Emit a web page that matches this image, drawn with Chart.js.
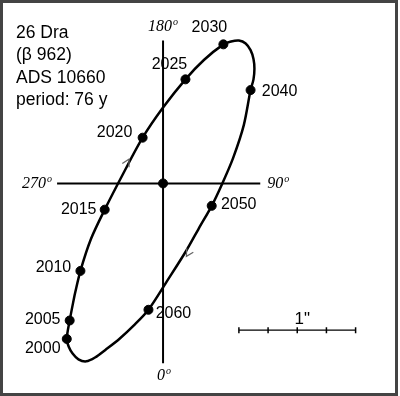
<!DOCTYPE html>
<html>
<head>
<meta charset="utf-8">
<script src="https://cdn.jsdelivr.net/npm/chart.js@4"></script>
<style>
  html, body { margin: 0; padding: 0; background: #fff; overflow: hidden; }
  #wrap { position: relative; width: 400px; height: 396px; }
  #frame { position: absolute; left: 0; top: 0; width: 398px; height: 396px; box-sizing: border-box; border: 3px solid #444; pointer-events: none; }
</style>
</head>
<body>
<div id="wrap">
  <canvas id="orbit-chart"></canvas>
  <div id="frame"></div>
</div>
<script>
// positions in arcseconds, primary star at the origin (180° up, 90° right)
const years = ['2000', '2005', '2010', '2015', '2020', '2025', '2030', '2040', '2050', '2060'];
const yearX = [-0.825, -0.800, -0.708, -0.500, -0.175, 0.192, 0.517, 0.750, 0.417, -0.125];
const yearY = [-1.333, -1.175, -0.750, -0.225, 0.392, 0.892, 1.192, 0.800, -0.192, -1.083];

// points read along the drawn orbit, starting on the straight stretch after 2005 and closing there
const orbitX = [-0.758, -0.708, -0.617, -0.500, -0.342, -0.175, 0.000, 0.192, 0.350, 0.517,
    0.583, 0.650, 0.708, 0.750, 0.775, 0.783, 0.775, 0.750, 0.692, 0.600, 0.508, 0.417, 0.308,
    0.200, 0.042, -0.125, -0.250, -0.375, -0.492, -0.583, -0.658, -0.725, -0.775, -0.808,
    -0.825, -0.800, -0.758];
const orbitY = [-0.958, -0.750, -0.475, -0.225, 0.083, 0.392, 0.650, 0.892, 1.058, 1.192,
    1.217, 1.225, 1.200, 1.142, 1.067, 0.983, 0.892, 0.800, 0.500, 0.217, 0.000, -0.192, -0.383,
    -0.575, -0.825, -1.083, -1.217, -1.333, -1.425, -1.492, -1.525, -1.508, -1.458, -1.400,
    -1.333, -1.175, -0.958];

const titleLines = ['26 Dra', '(β 962)', 'ADS 10660', 'period: 76 y'];
const scaleTicks = [0.65, 0.9, 1.15, 1.4, 1.65];   // 1" bar in quarter steps
const scaleBarY = -1.258;

// label offsets in px (style only)
const labelDx = [-24, -27, -27, -26, -28, -16, -14, 29, 27, 25];
const labelDy = [10, -1, -3, 0, -5, -15, -17, 2, -1, 4];

// direction arrows on the orbit: tip position and heading
const arrowX = [-0.292, 0.200];
const arrowY = [0.208, -0.625];
const arrowDir = [[39, -74], [-65, 107]];

const annotations = {
    id: 'annotations',
    afterDatasetsDraw(chart) {
        const { ctx, scales: { x, y } } = chart;
        ctx.save();
        ctx.fillStyle = '#000';
        ctx.textBaseline = 'middle';

        // year labels
        ctx.font = '16px "Liberation Sans", Arial, sans-serif';
        ctx.textAlign = 'center';
        years.forEach((yr, i) => {
            ctx.fillText(yr, x.getPixelForValue(yearX[i]) + labelDx[i], y.getPixelForValue(yearY[i]) + labelDy[i]);
        });

        // title block
        ctx.font = '17.5px "Liberation Sans", Arial, sans-serif';
        ctx.textAlign = 'left';
        titleLines.forEach((t, i) => ctx.fillText(t, 16, 33 + i * 22.5));

        // scale bar label
        ctx.font = '17px "Liberation Sans", Arial, sans-serif';
        ctx.textAlign = 'center';
        ctx.fillText('1"', x.getPixelForValue(1.15) + 5, y.getPixelForValue(scaleBarY) - 11);

        // position angle labels
        const deg = (txt, px, py, align) => {
            ctx.font = 'italic 16px "Liberation Serif", "Times New Roman", serif';
            const w = ctx.measureText(txt).width;
            ctx.font = 'italic 10px "Liberation Serif", "Times New Roman", serif';
            const wo = ctx.measureText('o').width;
            let left = px;
            if (align === 'center') left = px - (w + wo + 1) / 2;
            if (align === 'right') left = px - (w + wo + 1);
            ctx.textAlign = 'left';
            ctx.font = 'italic 16px "Liberation Serif", "Times New Roman", serif';
            ctx.fillText(txt, left, py);
            ctx.font = 'italic 10px "Liberation Serif", "Times New Roman", serif';
            ctx.fillText('o', left + w + 1, py - 4);
        };
        const cx = x.getPixelForValue(0), cy = y.getPixelForValue(0);
        deg('180', cx, y.getPixelForValue(1.225) - 14, 'center');
        deg('0', cx + 1, y.getPixelForValue(-1.542) + 12, 'center');
        deg('270', x.getPixelForValue(-0.908) - 5, cy, 'right');
        deg('90', x.getPixelForValue(0.833) + 7, cy, 'left');

        // small open arrowheads
        ctx.strokeStyle = '#666';
        ctx.lineWidth = 1.2;
        arrowX.forEach((ax, i) => {
            const tx = x.getPixelForValue(ax), ty = y.getPixelForValue(arrowY[i]);
            const [dx, dy] = arrowDir[i];
            const a = Math.atan2(dy, dx);
            ctx.beginPath();
            ctx.moveTo(tx - 8 * Math.cos(a - 0.5), ty - 8 * Math.sin(a - 0.5));
            ctx.lineTo(tx, ty);
            ctx.lineTo(tx - 8 * Math.cos(a + 0.5), ty - 8 * Math.sin(a + 0.5));
            ctx.stroke();
        });
        ctx.restore();
    }
};

new Chart(document.getElementById('orbit-chart').getContext('2d'), {
    type: 'scatter',
    data: {
        datasets: [
            {
                data: [{ x: -0.908, y: 0 }, { x: 0.833, y: 0 }],
                showLine: true, borderColor: '#000', borderWidth: 2, pointRadius: 0
            },
            {
                data: [{ x: 0, y: 1.225 }, { x: 0, y: -1.542 }],
                showLine: true, borderColor: '#000', borderWidth: 2, pointRadius: 0
            },
            {
                data: orbitX.map((v, i) => ({ x: v, y: orbitY[i] })),
                showLine: true, tension: 0.3, borderColor: '#000', borderWidth: 2.5, pointRadius: 0
            },
            {
                data: yearX.map((v, i) => ({ x: v, y: yearY[i] })),
                pointRadius: 4.5, backgroundColor: '#000', borderColor: '#000'
            },
            {
                data: [{ x: 0, y: 0 }],
                pointRadius: 4.5, backgroundColor: '#000', borderColor: '#000'
            },
            {
                data: scaleTicks.map(v => ({ x: v, y: scaleBarY })),
                showLine: true, borderColor: '#000', borderWidth: 1.2,
                pointStyle: 'line', rotation: 90, pointRadius: 3, pointBorderWidth: 1.5
            }
        ]
    },
    options: {
        responsive: true,
        maintainAspectRatio: false,
        animation: false,
        layout: { padding: 0 },
        plugins: { legend: { display: false }, tooltip: { enabled: false } },
        scales: {
            x: { display: false, min: -1.35, max: 1.9833 },
            y: { display: false, min: -1.775, max: 1.525 }
        }
    },
    plugins: [annotations]
});
</script>
</body>
</html>
